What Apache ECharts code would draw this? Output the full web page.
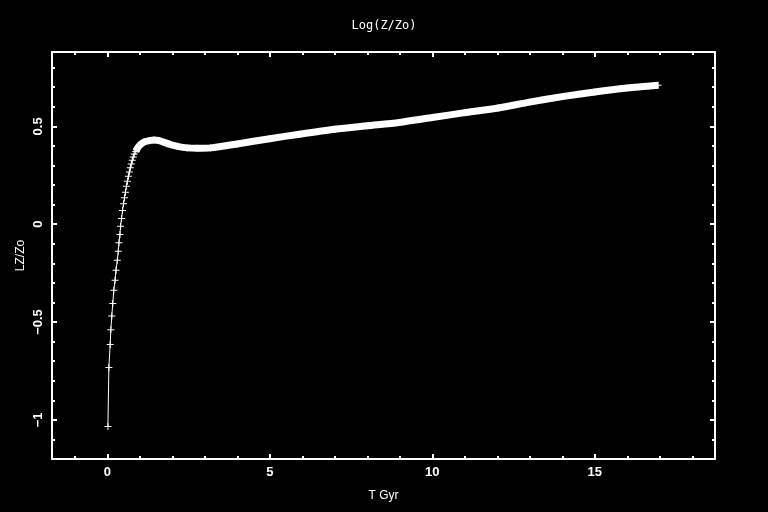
<!DOCTYPE html>
<html>
<head>
<meta charset="utf-8">
<script src="https://cdn.jsdelivr.net/npm/echarts@6/dist/echarts.min.js"></script>
<style>html,body{margin:0;padding:0;background:#000;}#c{width:768px;height:512px;}</style>
</head>
<body>
<div id="c"></div>
<script>
// Early part: discrete markers (time in Gyr, log Z/Zo)
var tEarly = [0.02,0.05,0.09,0.11,0.14,0.17,0.20,0.24,0.27,0.31,0.34,0.36,0.39,0.41,0.44,0.47,0.50,0.53,0.56,0.59,0.62,0.65,0.68,0.71,0.74,0.77,0.80,0.83];
var zEarly = [-1.034,-0.733,-0.615,-0.539,-0.469,-0.405,-0.338,-0.286,-0.235,-0.184,-0.138,-0.095,-0.053,-0.010,0.029,0.070,0.104,0.135,0.163,0.194,0.219,0.245,0.267,0.288,0.308,0.327,0.344,0.359];
// Later part: markers merge into a dense band
var tLate = [0.88,0.92,0.97,1.04,1.14,1.29,1.44,1.60,1.75,1.95,2.16,2.46,2.77,3.18,4.0,5.0,5.92,7.0,8.0,8.98,10.0,11.0,12.03,13.0,14.0,15.0,16.0,16.95];
var zLate = [0.372,0.385,0.398,0.410,0.420,0.427,0.430,0.427,0.418,0.407,0.398,0.390,0.388,0.390,0.410,0.437,0.460,0.485,0.503,0.520,0.545,0.570,0.594,0.624,0.652,0.676,0.696,0.710];

var xMajor = [0,5,10,15];
var xMinor = [-1,0,1,2,3,4,5,6,7,8,9,10,11,12,13,14,15,16,17,18];
var yMajor = [-1,-0.5,0,0.5];
var yMinor = [-1.1,-1,-0.9,-0.8,-0.7,-0.6,-0.5,-0.4,-0.3,-0.2,-0.1,0,0.1,0.2,0.3,0.4,0.5,0.6,0.7,0.8];
var xLabels = ['0','5','10','15'];
var yLabels = ['\u22121','\u22120.5','0','0.5'];

var X_MIN = -1.7, X_MAX = 18.7, Y_MIN = -1.2, Y_MAX = 0.88;

function pairs(t, z){ return t.map(function(v,i){ return [v, z[i]]; }); }
var allPts = pairs(tEarly, zEarly).concat(pairs(tLate, zLate));
var bandPts = pairs(tLate, zLate);

var W = '#ffffff';
var labelFont = {color: W, fontFamily: 'Liberation Sans', fontWeight: 'bold', fontSize: 13};

function xAx(pos, vals, len, withLabel, line){
  return {
    type: 'value', position: pos, min: X_MIN, max: X_MAX, gridIndex: 0,
    splitLine: {show: false},
    axisLine: {show: line, onZero: false, lineStyle: {color: W, width: 2}},
    axisTick: {show: true, inside: true, length: len, customValues: vals, lineStyle: {color: W, width: 2}},
    axisLabel: withLabel ? Object.assign({show: true, margin: 7, customValues: xMajor,
      formatter: function(v){ var i = xMajor.indexOf(v); return i >= 0 ? xLabels[i] : ''; }}, labelFont) : {show: false},
    name: withLabel ? 'T Gyr' : '', nameLocation: 'middle', nameGap: 31, nameMoveOverlap: false,
    nameTextStyle: {color: W, fontFamily: 'Liberation Sans', fontSize: 12}
  };
}
function yAx(pos, vals, len, withLabel, line){
  return {
    type: 'value', position: pos, min: Y_MIN, max: Y_MAX, gridIndex: 0,
    splitLine: {show: false},
    axisLine: {show: line, onZero: false, lineStyle: {color: W, width: 2}},
    axisTick: {show: true, inside: true, length: len, customValues: vals, lineStyle: {color: W, width: 2}},
    axisLabel: withLabel ? Object.assign({show: true, margin: 7, rotate: 90, customValues: yMajor,
      formatter: function(v){ for (var i=0;i<yMajor.length;i++){ if (Math.abs(yMajor[i]-v)<1e-9) return yLabels[i]; } return ''; }}, labelFont) : {show: false},
    name: withLabel ? 'LZ/Zo' : '', nameLocation: 'middle', nameGap: 25, nameMoveOverlap: false,
    nameTextStyle: {color: W, fontFamily: 'Liberation Sans', fontSize: 12}
  };
}

var chart = echarts.init(document.getElementById('c'), null, {renderer: 'canvas'});
chart.setOption({
  backgroundColor: '#000',
  animation: false,
  title: {text: 'Log(Z/Zo)', left: 'center', top: 15,
    textStyle: {color: W, fontFamily: 'DejaVu Sans Mono', fontWeight: 'normal', fontSize: 12}},
  grid: {left: 52, right: 53, top: 52, bottom: 53, containLabel: false},
  xAxis: [
    xAx('bottom', xMajor, 5, true, true),
    xAx('bottom', xMinor, 3, false, false),
    xAx('top', xMajor, 5, false, true),
    xAx('top', xMinor, 3, false, false)
  ],
  yAxis: [
    yAx('left', yMajor, 5, true, true),
    yAx('left', yMinor, 3, false, false),
    yAx('right', yMajor, 5, false, true),
    yAx('right', yMinor, 3, false, false)
  ],
  series: [
    {
      type: 'line', xAxisIndex: 0, yAxisIndex: 0, data: allPts,
      symbol: 'path://M3,0H4V3H7V4H4V7H3V4H0V3H3Z', symbolSize: 7, showAllSymbol: true,
      itemStyle: {color: W}, lineStyle: {color: W, width: 1}, silent: true, z: 3
    },
    {
      type: 'line', xAxisIndex: 0, yAxisIndex: 0, data: bandPts, smooth: 0.25,
      symbol: 'none', lineStyle: {color: W, width: 7, cap: 'butt', join: 'round'}, silent: true, z: 2
    }
  ]
});
</script>
</body>
</html>
